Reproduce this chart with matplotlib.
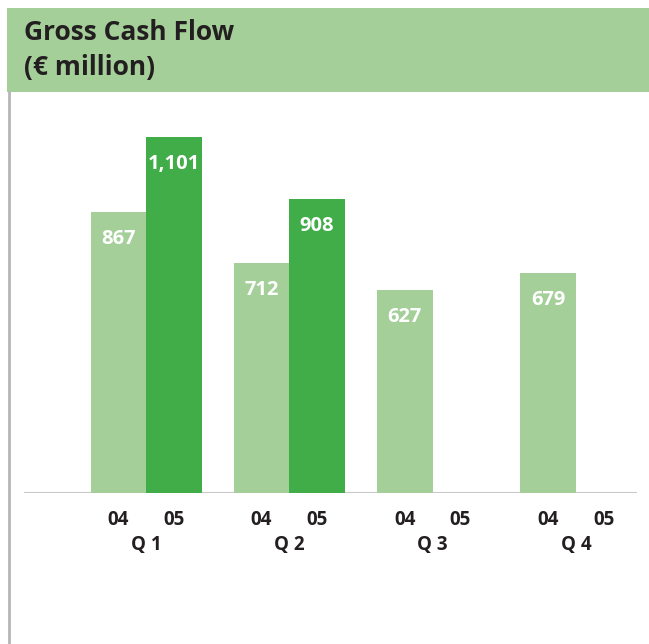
import matplotlib
matplotlib.use("Agg")
import matplotlib.pyplot as plt
from matplotlib.patches import Rectangle
from matplotlib.lines import Line2D
import matplotlib.transforms as mtransforms

quarters = ["Q 1", "Q 2", "Q 3", "Q 4"]
years = ["04", "05"]
values_04 = [867, 712, 627, 679]
values_05 = [1101, 908, None, None]

light = "#a4cf99"
dark = "#41ad49"
txt = "#231f20"

plt.rcParams['font.family'] = ['Open Sans', 'DejaVu Sans']

W, H = 649, 644
fig = plt.figure(figsize=(W / 100, H / 100), dpi=100)

# header band
fig.patches.append(Rectangle((7 / W, 1 - 92 / H), 1 - 7 / W, (92 - 8) / H,
                             transform=fig.transFigure, facecolor=light,
                             edgecolor="none", zorder=0))
fig.text(24 / W, 1 - 33 / H, "Gross Cash Flow", fontsize=19, fontweight="bold",
         color=txt, va="center", ha="left")
fig.text(24 / W, 1 - 68 / H, "(€ million)", fontsize=19, fontweight="bold",
         color=txt, va="center", ha="left")
# left border
fig.lines.append(Line2D([8.5 / W, 8.5 / W], [0, 1 - 92 / H], transform=fig.transFigure,
                        color="#b5b5b5", linewidth=2))

unit = 143.3
left_px, right_px = 24, 637
x0 = 146
ymax = 1200
ppu = 0.3237
base_px = 493
top_px = base_px - ymax * ppu
ax = fig.add_axes([left_px / W, (H - base_px) / H, (right_px - left_px) / W,
                   (base_px - top_px) / H])
ax.set_xlim((left_px - x0) / unit, (right_px - x0) / unit)
ax.set_ylim(0, ymax)
for s in ax.spines.values():
    s.set_visible(False)
ax.axhline(0, color="#c8c8c8", linewidth=2.2, zorder=1)
ax.set_yticks([])

bw = 55.5 / unit
off = bw / 2
ticks, tlabels = [], []
for i, q in enumerate(quarters):
    for j, (vals, col) in enumerate([(values_04, light), (values_05, dark)]):
        xc = i + (off if j else -off)
        ticks.append(xc)
        tlabels.append(years[j])
        v = vals[i]
        if v is None:
            continue
        ax.bar(xc, v, width=bw, color=col, zorder=2)
        ax.text(xc, v - 27 / ppu, f"{v:,}", ha="center", va="center", color="white",
                fontsize=14.5, fontweight="bold", zorder=3)

ax.set_xticks(ticks)
ax.set_xticklabels(tlabels, fontsize=13.5, fontweight="bold", color=txt)
ax.tick_params(axis="x", length=0, pad=12)

trans = mtransforms.blended_transform_factory(ax.transData, fig.transFigure)
for i, q in enumerate(quarters):
    ax.text(i, 1 - 545 / H, q, transform=trans, ha="center", va="center",
            fontsize=13.5, fontweight="bold", color=txt)

fig.savefig("out.png", dpi=100)
